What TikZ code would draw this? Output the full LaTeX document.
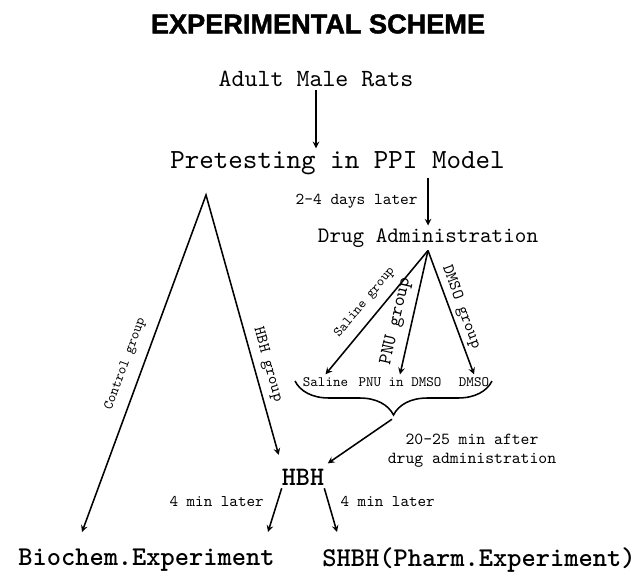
\documentclass[tikz,border=0pt]{standalone}
\usepackage{fontspec}
\setmainfont{lmmono10-regular.otf}[BoldFont=lmmonolt10-bold.otf]
\newfontfamily\headfont{Liberation Sans}[BoldFeatures={FakeBold=1.6}]
\usetikzlibrary{decorations.pathreplacing,positioning}
\newcommand{\fsize}[1]{\fontsize{#1}{#1}\selectfont}
\tikzstyle{heading} = [font=\headfont\bfseries\fontsize{19.3}{23}\selectfont]
\tikzstyle{stage} = [inner sep=2pt]
\tikzstyle{result} = [inner sep=0pt, font=\bfseries\fsize{19.3}]
\tikzstyle{arrow} = [line width=1.1pt,->,>=stealth]

\begin{document}
\begin{tikzpicture}
	\useasboundingbox (0,0) rectangle (15.975,14.4);
	\node (title) at (7.95, 13.8) [heading] {EXPERIMENTAL SCHEME};
	\node (rats) at (7.9, 12.425) [stage, font=\fsize{17.6}] {Adult Male Rats};
	\node (pretest) at (8.4375, 10.325) [stage, font=\fsize{19.7}] {Pretesting in PPI Model};
	\node (drug) at (10.7, 8.45) [stage, font=\fsize{15.7}] {Drug Administration};
	\node (saline) at (8.1375, 4.85) [stage, font=\fsize{10.2}] {Saline};
	\node (pnu) at (10.0, 4.85) [stage, font=\fsize{10.2}] {PNU in DMSO};
	\node (dmso) at (11.85, 4.85) [stage, font=\fsize{10.2}] {DMSO};
	\node (hbh) at (7.575, 2.475) [result, font=\bfseries\fsize{19}, inner ysep=2pt] {HBH};
	\node (adminnote) at (11.8, 3.125) [align=center, font=\fontsize{12}{13.5}\selectfont] {20-25 min after\\drug administration};
	\node (biochem) at (0.45, 0.4) [result, anchor=west] {Biochem.Experiment};
	\node (pharm) at (8.05, 0.4) [result, anchor=west] {SHBH(Pharm.Experiment)};
	\coordinate (apex) at (5.15, 9.525);
	\coordinate (ctrlEnd) at (2.05, 1.1);
	\coordinate (bioEnd) at (6.7, 1.1);
	\coordinate (pharmEnd) at (8.425, 1.1);
	\coordinate (braceL) at (7.375, 4.875);
	\coordinate (braceR) at (12.3, 4.875);
	\coordinate (braceTip) at (9.8, 3.92);
	% pretest and drug
	\draw[arrow] (rats.south) -- (rats.south |- pretest.north);
	\draw[arrow] (drug.north |- pretest.south) -- node[midway, left=3.5pt, font=\fsize{11.8}] {2-4 days later} (drug.north);
	\draw[arrow] (drug.south) -- node[sloped, pos=0.5, above=3pt, font=\fsize{9.8}] {Saline group} (saline.north);
	\draw[arrow] (drug.south) -- node[sloped, pos=0.6, above=1.5pt, font=\fsize{13.4}] {PNU group} (pnu.north);
	\draw[arrow] (drug.south) -- node[sloped, pos=0.49, above=-1pt, font=\fsize{11.8}] {DMSO group} (dmso.north);
	\draw[decorate, decoration={brace, mirror, amplitude=0.85cm}, line width=1.1pt] (braceL) -- (braceR);
	\draw[arrow, shorten >=3pt] (braceTip) -- (hbh.north east);
	% control and HBH groups
	\draw[arrow, <->, shorten >=8pt] (ctrlEnd) -- node[sloped, pos=0.48, above=4pt, font=\fsize{10.1}] {Control group} (apex) -- node[sloped, pos=0.64, above=1pt, font=\fsize{11.5}] {HBH group} (hbh.north west);
	\draw[arrow] (hbh.south west) -- node[pos=0.3, left=6pt, font=\fsize{11.6}] {4 min later} (bioEnd);
	\draw[arrow] (hbh.south east) -- node[pos=0.3, right=5pt, font=\fsize{11.6}] {4 min later} (pharmEnd);
\end{tikzpicture}
\end{document}
